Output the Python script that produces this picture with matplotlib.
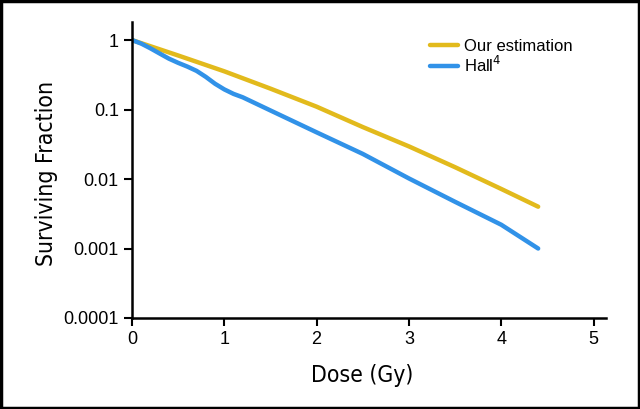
import matplotlib
matplotlib.use("Agg")
import matplotlib.pyplot as plt
from matplotlib.patches import Rectangle

dose_est = [0, 0.5, 1.0, 1.5, 2.0, 2.5, 3.0, 3.5, 4.0, 4.4]
sf_est = [1.0, 0.60, 0.355, 0.20, 0.11, 0.056, 0.0295, 0.0148, 0.0072, 0.004]

dose_hall = [0, 0.1, 0.2, 0.3, 0.4, 0.5, 0.6, 0.7, 0.8, 0.9, 1.0, 1.1, 1.2, 1.5,
             2.0, 2.5, 3.0, 3.5, 4.0, 4.4]
sf_hall = [1.0, 0.89, 0.76, 0.64, 0.54, 0.47, 0.415, 0.36, 0.295, 0.235, 0.195,
           0.168, 0.15, 0.097, 0.047, 0.023, 0.0102, 0.0047, 0.0022, 0.001]

x_ticks = [0, 1, 2, 3, 4, 5]
y_ticks = [1, 0.1, 0.01, 0.001, 0.0001]
y_tick_labels = ["1", "0.1", "0.01", "0.001", "0.0001"]

c_est = "#E2BA1C"
c_hall = "#3192E8"

plt.rcParams["font.family"] = ["Liberation Sans", "DejaVu Sans"]

fig = plt.figure(figsize=(6.4, 4.09), dpi=100)
ax = fig.add_axes([132 / 640, 1 - 318 / 409, 474 / 640, 296 / 409])

ax.plot(dose_est, sf_est, color=c_est, lw=3.2, solid_capstyle="round",
        solid_joinstyle="round", label="Our estimation")
ax.plot(dose_hall, sf_hall, color=c_hall, lw=3.2, solid_capstyle="round",
        solid_joinstyle="round", label="Hall$^4$")

ax.set_yscale("log")
ax.set_xlim(0, 5.135)
ax.set_ylim(0.0001, 1.82)
ax.set_xticks(x_ticks)
ax.set_xticklabels([str(t) for t in x_ticks])
ax.set_yticks(y_ticks)
ax.set_yticklabels(y_tick_labels)
ax.minorticks_off()

for s in ["top", "right"]:
    ax.spines[s].set_visible(False)
for s in ["left", "bottom"]:
    ax.spines[s].set_linewidth(1.8)
ax.tick_params(axis="both", length=5.5, width=1.5, labelsize=13, colors="black")
ax.tick_params(axis="x", pad=4)
ax.tick_params(axis="y", pad=4)

lab_font = dict(fontsize=16.5, family=["DejaVu Sans"], fontstretch="condensed")
ax.set_xlabel("Dose (Gy)", **lab_font)
ax.set_ylabel("Surviving Fraction", **lab_font)
ax.xaxis.set_label_coords(0.485, -0.155)
ax.yaxis.set_label_coords(-0.157, 0.49)

leg = ax.legend(loc="upper left", bbox_to_anchor=(0.614, 0.965), frameon=False,
                prop=dict(family=["Liberation Sans"], size=12),
                handlelength=1.68, handletextpad=0.36,
                labelspacing=0.05, borderaxespad=0)

fig.patches.append(Rectangle((0.002, 0.003), 0.996, 0.994, transform=fig.transFigure,
                             fill=False, edgecolor="black", lw=2.5))

fig.savefig("out.png", dpi=100)
